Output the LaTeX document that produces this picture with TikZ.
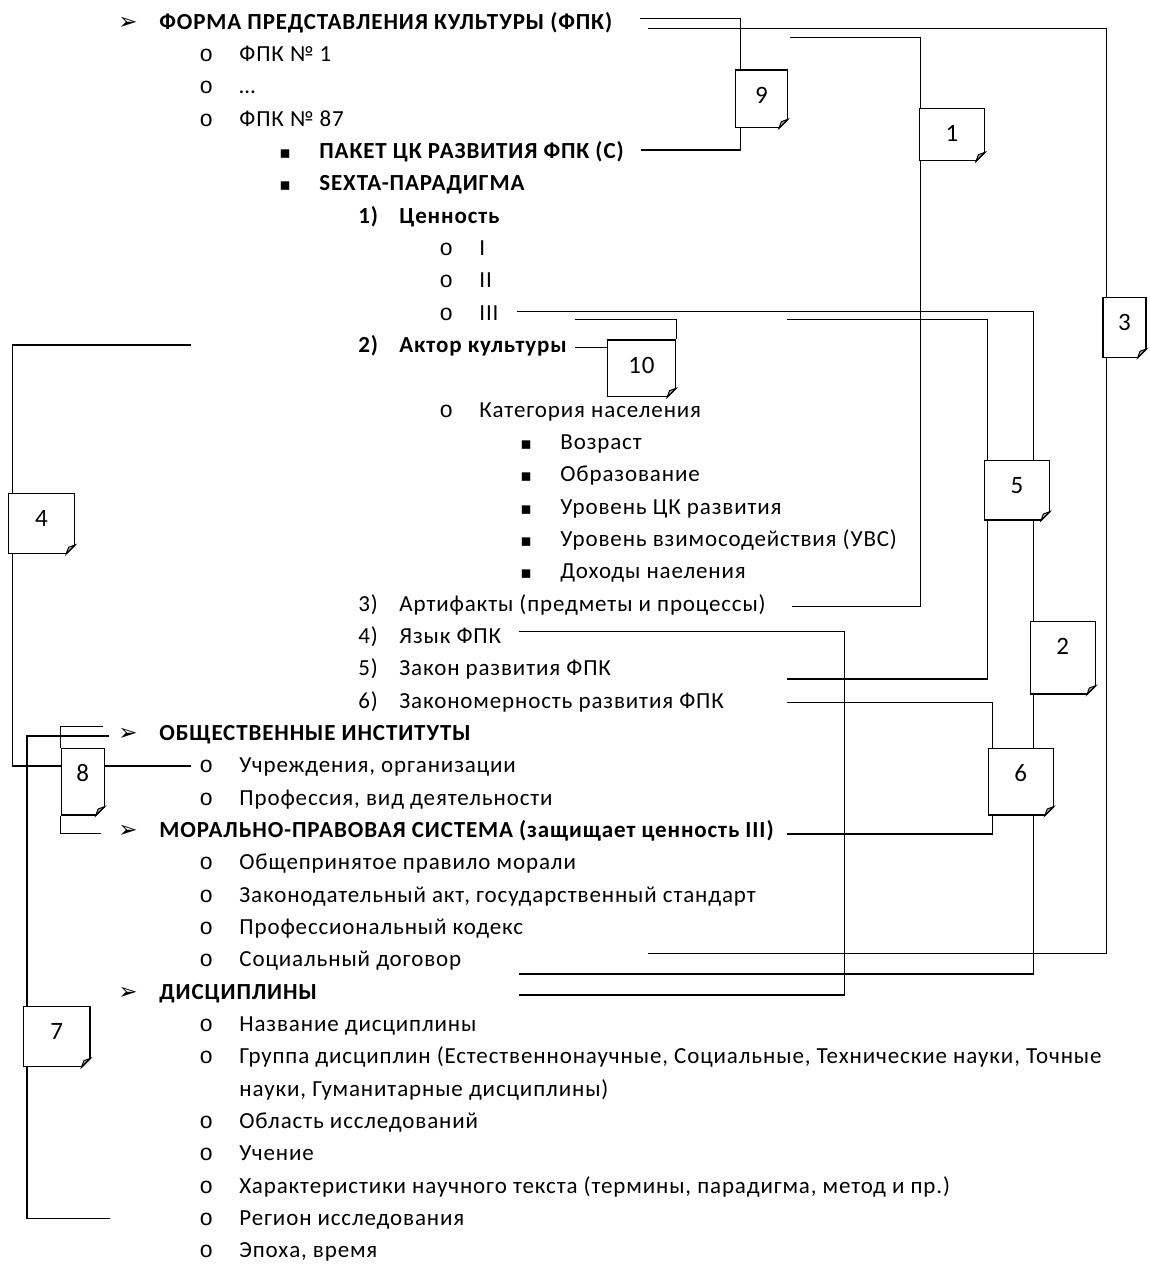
\documentclass[tikz,border=0pt]{standalone}
\usepackage{fontspec}
\setmainfont{Carlito}[LetterSpace=3.8]
\newfontfamily\symfont{DejaVu Sans}
\newfontfamily\bulfont{Liberation Mono}
\usetikzlibrary{fit,backgrounds,calc}
\tikzset{txt/.style={anchor=base west,inner sep=0pt,font=\fontsize{11.5}{13}\selectfont},
         head/.style={txt,font=\fontsize{11.5}{13}\selectfont\bfseries},
         note/.style={draw,fill=white,inner sep=0pt,line width=.6pt},
         num/.style={inner sep=0pt,font=\fontsize{12.5}{14}\selectfont},
         wire/.style={line width=.6pt},
            }
\newcommand\bularr{\llap{\makebox[20.5pt][l]{{\symfont\bfseries\fontsize{11.5}{12}\selectfont ➢}}}}
\newcommand\bulo{\llap{\makebox[20pt][l]{{\bulfont o}}}}
\newcommand\bulsq{\llap{\makebox[20pt][l]{{\symfont\fontsize{8.5}{10}\selectfont ▪}}}}
\newcommand\bulnum[1]{\llap{\makebox[20.5pt][l]{#1}}}

\begin{document}
\begin{tikzpicture}[x=0.5pt,y=-0.5pt]
    \useasboundingbox (0,0) rectangle (1150,1264);

    % list
    \node[head] (forma)   at (159,29)    {\bularr ФОРМА ПРЕДСТАВЛЕНИЯ КУЛЬТУРЫ (ФПК)};
    \node[txt]  (fpk1)    at (239,61.3)  {\bulo ФПК № 1};
    \node[txt]  (fpkdots) at (239,93.7)  {\bulo …};
    \node[txt]  (fpk87)   at (239,126)   {\bulo ФПК № 87};
    \node[head] (paket)   at (319,158.4) {\bulsq ПАКЕТ ЦК РАЗВИТИЯ ФПК (С)};
    \node[head] (sexta)   at (319,190.7) {\bulsq SEXTA-ПАРАДИГМА};
    \node[head] (cennost) at (399,223)   {\bulnum{1)}Ценность};
    \node[txt]  (val1)    at (479,255.4) {\bulo I};
    \node[txt]  (val2)    at (479,287.7) {\bulo II};
    \node[txt]  (val3)    at (479,320.1) {\bulo III};
    \node[head] (aktor)   at (399,352.4) {\bulnum{2)}Актор культуры};
    \node[txt]  (kateg)   at (479,417.1) {\bulo Категория населения};
    \node[txt]  (vozrast) at (560,449.4) {\bulsq Возраст};
    \node[txt]  (obraz)   at (560,481.8) {\bulsq Образование};
    \node[txt]  (urck)    at (560,514.1) {\bulsq Уровень ЦК развития};
    \node[txt]  (uvs)     at (560,546.4) {\bulsq Уровень взимосодействия (УВС)};
    \node[txt]  (dohod)   at (560,578.8) {\bulsq Доходы наеления};
    \node[txt]  (artef)   at (399,611.1) {\bulnum{3)}Артифакты (предметы и процессы)};
    \node[txt]  (yazyk)   at (399,643.5) {\bulnum{4)}Язык ФПК};
    \node[txt]  (zakon)   at (399,675.8) {\bulnum{5)}Закон развития ФПК};
    \node[txt]  (zakonom) at (399,708.1) {\bulnum{6)}Закономерность развития ФПК};
    \node[head] (obsch)   at (159,740.5) {\bularr ОБЩЕСТВЕННЫЕ ИНСТИТУТЫ};
    \node[txt]  (uchr)    at (239,772.8) {\bulo Учреждения, организации};
    \node[txt]  (prof)    at (239,805.2) {\bulo Профессия, вид деятельности};
    \node[head] (moral)   at (159,837.5) {\bularr МОРАЛЬНО-ПРАВОВАЯ СИСТЕМА (защищает ценность III)};
    \node[txt]  (obshepr) at (239,869.8) {\bulo Общепринятое правило морали};
    \node[txt]  (zakonod) at (239,902.2) {\bulo Законодательный акт, государственный стандарт};
    \node[txt]  (profkod) at (239,934.5) {\bulo Профессиональный кодекс};
    \node[txt]  (socdog)  at (239,966.9) {\bulo Социальный договор};
    \node[head] (discip)  at (159,999.2) {\bularr ДИСЦИПЛИНЫ};
    \node[txt]  (nazv)    at (239,1031.5) {\bulo Название дисциплины};
    \node[txt]  (grupa)   at (239,1063.9) {\bulo Группа дисциплин (Естественнонаучные, Социальные, Технические науки, Точные};
    \node[txt]  (grupb)   at (239,1096.2) {науки, Гуманитарные дисциплины)};
    \node[txt]  (oblast)  at (239,1128.6) {\bulo Область исследований};
    \node[txt]  (uchenie) at (239,1160.9) {\bulo Учение};
    \node[txt]  (harakt)  at (239,1193.2) {\bulo Характеристики научного текста (термины, парадигма, метод и пр.)};
    \node[txt]  (region)  at (239,1225.6) {\bulo Регион исследования};
    \node[txt]  (epoha)   at (239,1257.9) {\bulo Эпоха, время};

    % notes
    \foreach \nm/\xa/\ya/\xb/\yb in {9/735.6/70/787.3/127.7, 1/919.3/108.3/984.4/160.7,
        3/1103/297.7/1146/357.3, 10/607.4/340/675.5/396.7, 5/984.4/460.7/1049.4/520,
        2/1030.3/621.7/1095.3/694, 6/988.2/748.3/1053.2/815, 4/8.4/493.3/74.6/553.3,
        8/61.2/748.3/104.1/815, 7/23.7/1006.7/89.9/1066.7}{
        \node[note,fit={(\xa,\ya) (\xb,\yb)}] (b\nm) {};
        \node[num] (n\nm) at ([yshift=-12.8pt]b\nm.north) {\nm};
        \fill[white] ($(b\nm.south east)+(1pt,-1pt)$) -- ($(b\nm.south east)+(1pt,5.5pt)$)
            -- ($(b\nm.south east)+(-5.5pt,-1pt)$) -- cycle;
        \filldraw[fill=gray!60,line width=.5pt] ($(b\nm.south east)+(0,4.5pt)$)
            -- ($(b\nm.south east)+(-4.5pt,0)$) -- ($(b\nm.south east)+(-3.3pt,3.3pt)$) -- cycle;
        \draw[line width=.6pt] ($(b\nm.south east)+(0,4.5pt)$) -- ($(b\nm.south east)+(-4.5pt,0)$);
    }

    % free ends
    \coordinate (f9a) at (640,18.3);    \coordinate (f9b) at (641,150);
    \coordinate (f3a) at (648,28.3);    \coordinate (f3b) at (648,953.3);
    \coordinate (f1a) at (790,37.7);    \coordinate (f1b) at (792,606.7);
    \coordinate (f2a) at (517,311.7);   \coordinate (f2b) at (518.6,974);
    \coordinate (f5a) at (787.3,319.3); \coordinate (f5b) at (787.3,679);
    \coordinate (f6a) at (786.5,702.3); \coordinate (f6b) at (787.3,834);
    \coordinate (f10a) at (575,319.3);  \coordinate (f10b) at (575,347.7);
    \coordinate (fya) at (518.6,631.7); \coordinate (fyb) at (518.6,995);
    \coordinate (fyc) at (844.7,995);
    \coordinate (f4a) at (191.3,345);   \coordinate (f4b) at (191.3,766);
    \coordinate (f8a) at (103.3,726.7); \coordinate (f8b) at (101.4,833.3);
    \coordinate (f7a) at (109,736);     \coordinate (f7b) at (110.2,1218.3);

    \begin{scope}[on background layer]
    \path[draw,wire]
    (f9a) -| ([xshift=2.9pt]b9.north west)  ([xshift=2.9pt]b9.south west) |- (f9b)
    (f1a) -| ([xshift=1pt]b1.north west)    ([xshift=1pt]b1.south west) |- (f1b)
    (f3a) -| ([xshift=1.9pt]b3.north west)  ([xshift=1.9pt]b3.south west) |- (f3b)
    (f5a) -| ([xshift=1.9pt]b5.north west)  ([xshift=1.9pt]b5.south west) |- (f5b)
    (f2a) -| ([xshift=1.9pt]b2.north west)  ([xshift=1.9pt]b2.south west) |- (f2b)
    (f6a) -| ([xshift=2.3pt]b6.north west)  ([xshift=2.3pt]b6.south west) |- (f6b)
    (fya) -| (fyc) -- (fyb)
    (f10b) -- (f10b -| b10.west)
    (f10a) -| (b10.north east)
    (f4a) -| ([xshift=2.5pt]b4.north west)  ([xshift=2.5pt]b4.south west) |- (f4b)
    (f8a) -| (b8.north west)                (b8.south west) |- (f8b)
    (f7a) -| ([xshift=1.9pt]b7.north west)  ([xshift=1.9pt]b7.south west) |- (f7b);
    \end{scope}

\end{tikzpicture}
\end{document}
